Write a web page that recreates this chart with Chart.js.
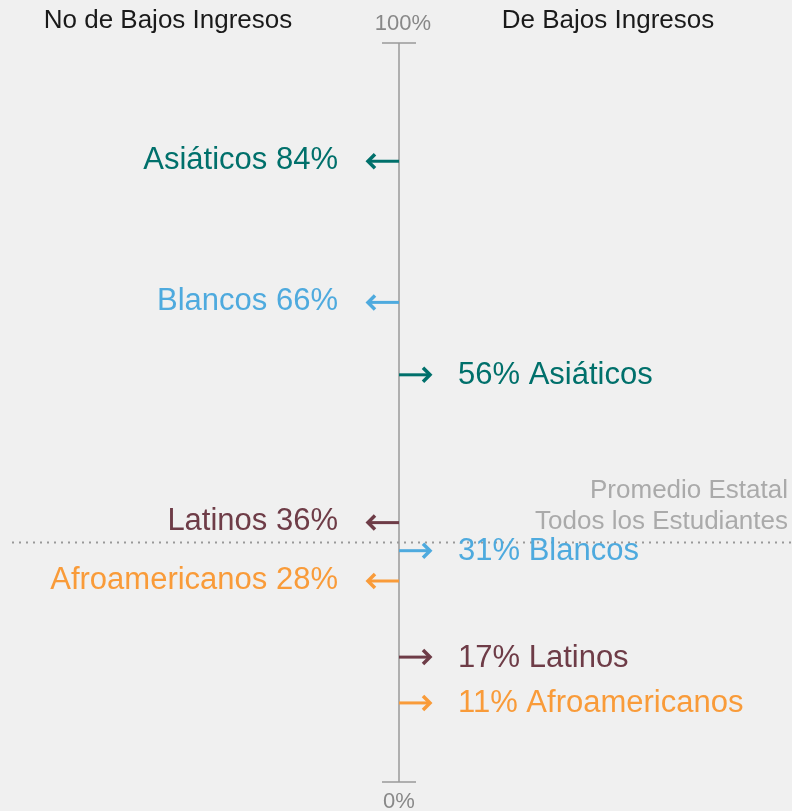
<!DOCTYPE html>
<html>
<head>
<meta charset="utf-8">
<script src="https://cdn.jsdelivr.net/npm/chart.js@4/dist/chart.umd.min.js"></script>
<style>
  html, body { margin: 0; padding: 0; background: #f0f0f0; }
  #wrap { width: 792px; height: 811px; }
</style>
</head>
<body>
<div id="wrap"><canvas id="chart"></canvas></div>
<script>
// groups, in the order they appear
const groups = ['Asiáticos', 'Blancos', 'Latinos', 'Afroamericanos'];
const colors = ['#00706b', '#4eaade', '#6e3c47', '#f99b39'];

// arrow positions (% of students)
const noBajosValues = [84.0, 64.9, 35.1, 27.2];
const bajosValues = [55.1, 31.3, 16.9, 10.7];

// numbers printed in the labels
const noBajosPct = [84, 66, 36, 28];
const bajosPct = [56, 31, 17, 11];

const stateAverage = 32.4;
const axisTicks = ['0%', '100%'];

const arrowLen = 33;
const FONT = '"Liberation Sans", Arial, sans-serif';

const arrowPlugin = {
  id: 'arrows',
  afterDatasetsDraw(chart) {
    const ctx = chart.ctx;
    const xs = chart.scales.x, ys = chart.scales.y;
    const cx = xs.getPixelForValue(0);
    const top = ys.getPixelForValue(100), bottom = ys.getPixelForValue(0);
    ctx.save();

    // headers
    ctx.font = '26px ' + FONT;
    ctx.fillStyle = '#1a1a1a';
    ctx.textAlign = 'center';
    ctx.textBaseline = 'middle';
    ctx.fillText('No de Bajos Ingresos', 168, 21);
    ctx.fillText('De Bajos Ingresos', 608, 21);

    // state average dotted line
    const ay = ys.getPixelForValue(stateAverage);
    ctx.strokeStyle = '#999';
    ctx.lineWidth = 2;
    ctx.setLineDash([2, 5]);
    ctx.beginPath();
    ctx.moveTo(12, ay);
    ctx.lineTo(792, ay);
    ctx.stroke();
    ctx.setLineDash([]);
    ctx.font = '26px ' + FONT;
    ctx.fillStyle = '#aaa';
    ctx.textAlign = 'right';
    ctx.textBaseline = 'alphabetic';
    ctx.fillText('Promedio Estatal', 788, 498);
    ctx.fillText('Todos los Estudiantes', 788, 529);

    // vertical axis
    ctx.strokeStyle = '#999';
    ctx.lineWidth = 1.5;
    ctx.beginPath();
    ctx.moveTo(cx, top);
    ctx.lineTo(cx, bottom);
    ctx.moveTo(cx - 17, top);
    ctx.lineTo(cx + 17, top);
    ctx.moveTo(cx - 17, bottom);
    ctx.lineTo(cx + 17, bottom);
    ctx.stroke();
    ctx.font = '22px ' + FONT;
    ctx.fillStyle = '#888';
    ctx.textAlign = 'center';
    ctx.textBaseline = 'middle';
    ctx.fillText(axisTicks[1], cx + 4, top - 19);
    ctx.fillText(axisTicks[0], cx, bottom + 20);

    // arrows + labels
    const drawArrow = (y, dir, color) => {
      const tip = xs.getPixelForValue(dir * arrowLen);
      ctx.strokeStyle = color;
      ctx.lineWidth = 3;
      ctx.lineCap = 'butt';
      ctx.beginPath();
      ctx.moveTo(cx, y);
      ctx.lineTo(tip - dir * 3, y);
      ctx.stroke();
      ctx.lineWidth = 3.5;
      ctx.lineJoin = 'miter';
      ctx.beginPath();
      ctx.moveTo(tip - dir * 9, y - 7);
      ctx.lineTo(tip - dir * 2, y);
      ctx.lineTo(tip - dir * 9, y + 7);
      ctx.stroke();
    };

    ctx.font = '31px ' + FONT;
    ctx.textBaseline = 'middle';
    chart.data.datasets.forEach((ds) => {
      ds.data.forEach((p, i) => {
        const y = ys.getPixelForValue(p.y);
        const dir = p.x < 0 ? -1 : 1;
        drawArrow(y, dir, colors[i]);
        ctx.fillStyle = colors[i];
        if (dir < 0) {
          ctx.textAlign = 'right';
          ctx.fillText(groups[i] + ' ' + noBajosPct[i] + '%', cx - 61, y - 1);
        } else {
          ctx.textAlign = 'left';
          ctx.fillText(bajosPct[i] + '% ' + groups[i], cx + 59, y + 1);
        }
      });
    });
    ctx.restore();
  }
};

new Chart(document.getElementById('chart'), {
  type: 'scatter',
  data: {
    datasets: [
      { label: 'No de Bajos Ingresos', data: noBajosValues.map(v => ({ x: -1, y: v })), pointRadius: 0 },
      { label: 'De Bajos Ingresos', data: bajosValues.map(v => ({ x: 1, y: v })), pointRadius: 0 }
    ]
  },
  options: {
    responsive: true,
    maintainAspectRatio: false,
    animation: false,
    layout: { padding: { top: 43, bottom: 29, left: 0, right: 0 } },
    plugins: { legend: { display: false }, tooltip: { enabled: false } },
    scales: {
      x: { type: 'linear', min: -399, max: 393, display: false },
      y: { type: 'linear', min: 0, max: 100, display: false }
    }
  },
  plugins: [arrowPlugin]
});
</script>
</body>
</html>
